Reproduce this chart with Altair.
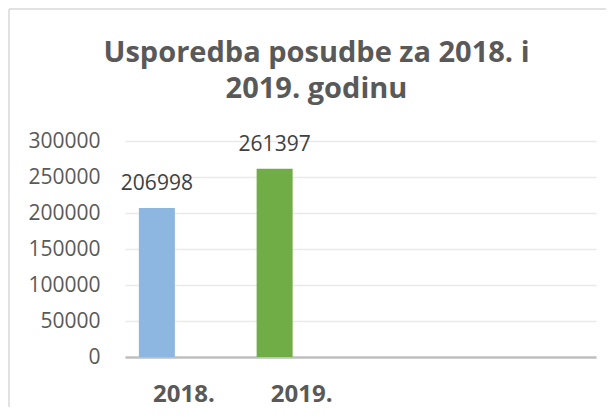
import altair as alt
import pandas as pd

# Data
categories = ["2018.", "2019.", "c3", "c4"]
years = ["2018.", "2019."]
values = [206998, 261397]
bar_colors = ["#8db7e1", "#70ad47"]
y_ticks = [0, 50000, 100000, 150000, 200000, 250000, 300000]

df = pd.DataFrame({"year": years, "value": values, "color": bar_colors})

FONT = "Open Sans"
GREY = "#595959"

x_enc = alt.X(
    "year:N",
    scale=alt.Scale(domain=categories, paddingInner=0, paddingOuter=0),
    sort=categories,
    axis=alt.Axis(
        title=None,
        labelExpr="indexof(['2018.','2019.'], datum.label) >= 0 ? datum.label : ''",
        labelAngle=0,
        labelFont=FONT,
        labelFontSize=24,
        labelFontWeight="bold",
        labelColor=GREY,
        labelPadding=25,
        ticks=False,
        domainColor="#bfbfbf",
        domainWidth=2.5,
        grid=False,
    ),
)

y_enc = alt.Y(
    "value:Q",
    scale=alt.Scale(domain=[0, 300000]),
    axis=alt.Axis(
        title=None,
        values=y_ticks,
        format="d",
        labelFont=FONT,
        labelFontSize=21,
        labelColor=GREY,
        labelPadding=25,
        labelOverlap=False,
        ticks=False,
        domain=False,
        grid=True,
        gridColor="#e9e9e9",
        gridWidth=1.5,
    ),
)

bars = alt.Chart(df).mark_bar(width=36, xOffset=-27).encode(
    x=x_enc,
    y=y_enc,
    color=alt.Color("color:N", scale=None),
)

labels = alt.Chart(df).mark_text(
    xOffset=-27, dy=-18, baseline="alphabetic", font=FONT, fontSize=21, color="#404040"
).encode(
    x=x_enc,
    y=y_enc,
    text=alt.Text("value:Q", format="d"),
)

border_data = alt.Data(values=[{"k": 1}])
border_top = alt.Chart(border_data).mark_rule(color="#d9d9d9", strokeWidth=1.5, clip=False).encode(
    x=alt.value(-116), x2=alt.value(500), y=alt.value(-132)
)
border_left = alt.Chart(border_data).mark_rule(color="#d9d9d9", strokeWidth=1.5, clip=False).encode(
    x=alt.value(-116), y=alt.value(-132), y2=alt.value(280)
)

chart = alt.layer(bars, labels, border_top, border_left).properties(
    width=471,
    height=216,
    autosize=alt.AutoSizeParams(type="none"),
    padding={"left": 117, "top": 133, "right": 10, "bottom": 50},
    title=alt.TitleParams(
        text=["Usporedba posudbe za 2018. i", "2019. godinu"],
        font=FONT,
        fontSize=29,
        fontWeight="bold",
        color=GREY,
        lineHeight=36,
        anchor="middle",
        dx=-44,
        offset=-96,
    ),
).configure_view(stroke=None).configure_axis(labelOverlap=False)

chart.save("out.html", embed_options={"renderer": "svg", "actions": False})
